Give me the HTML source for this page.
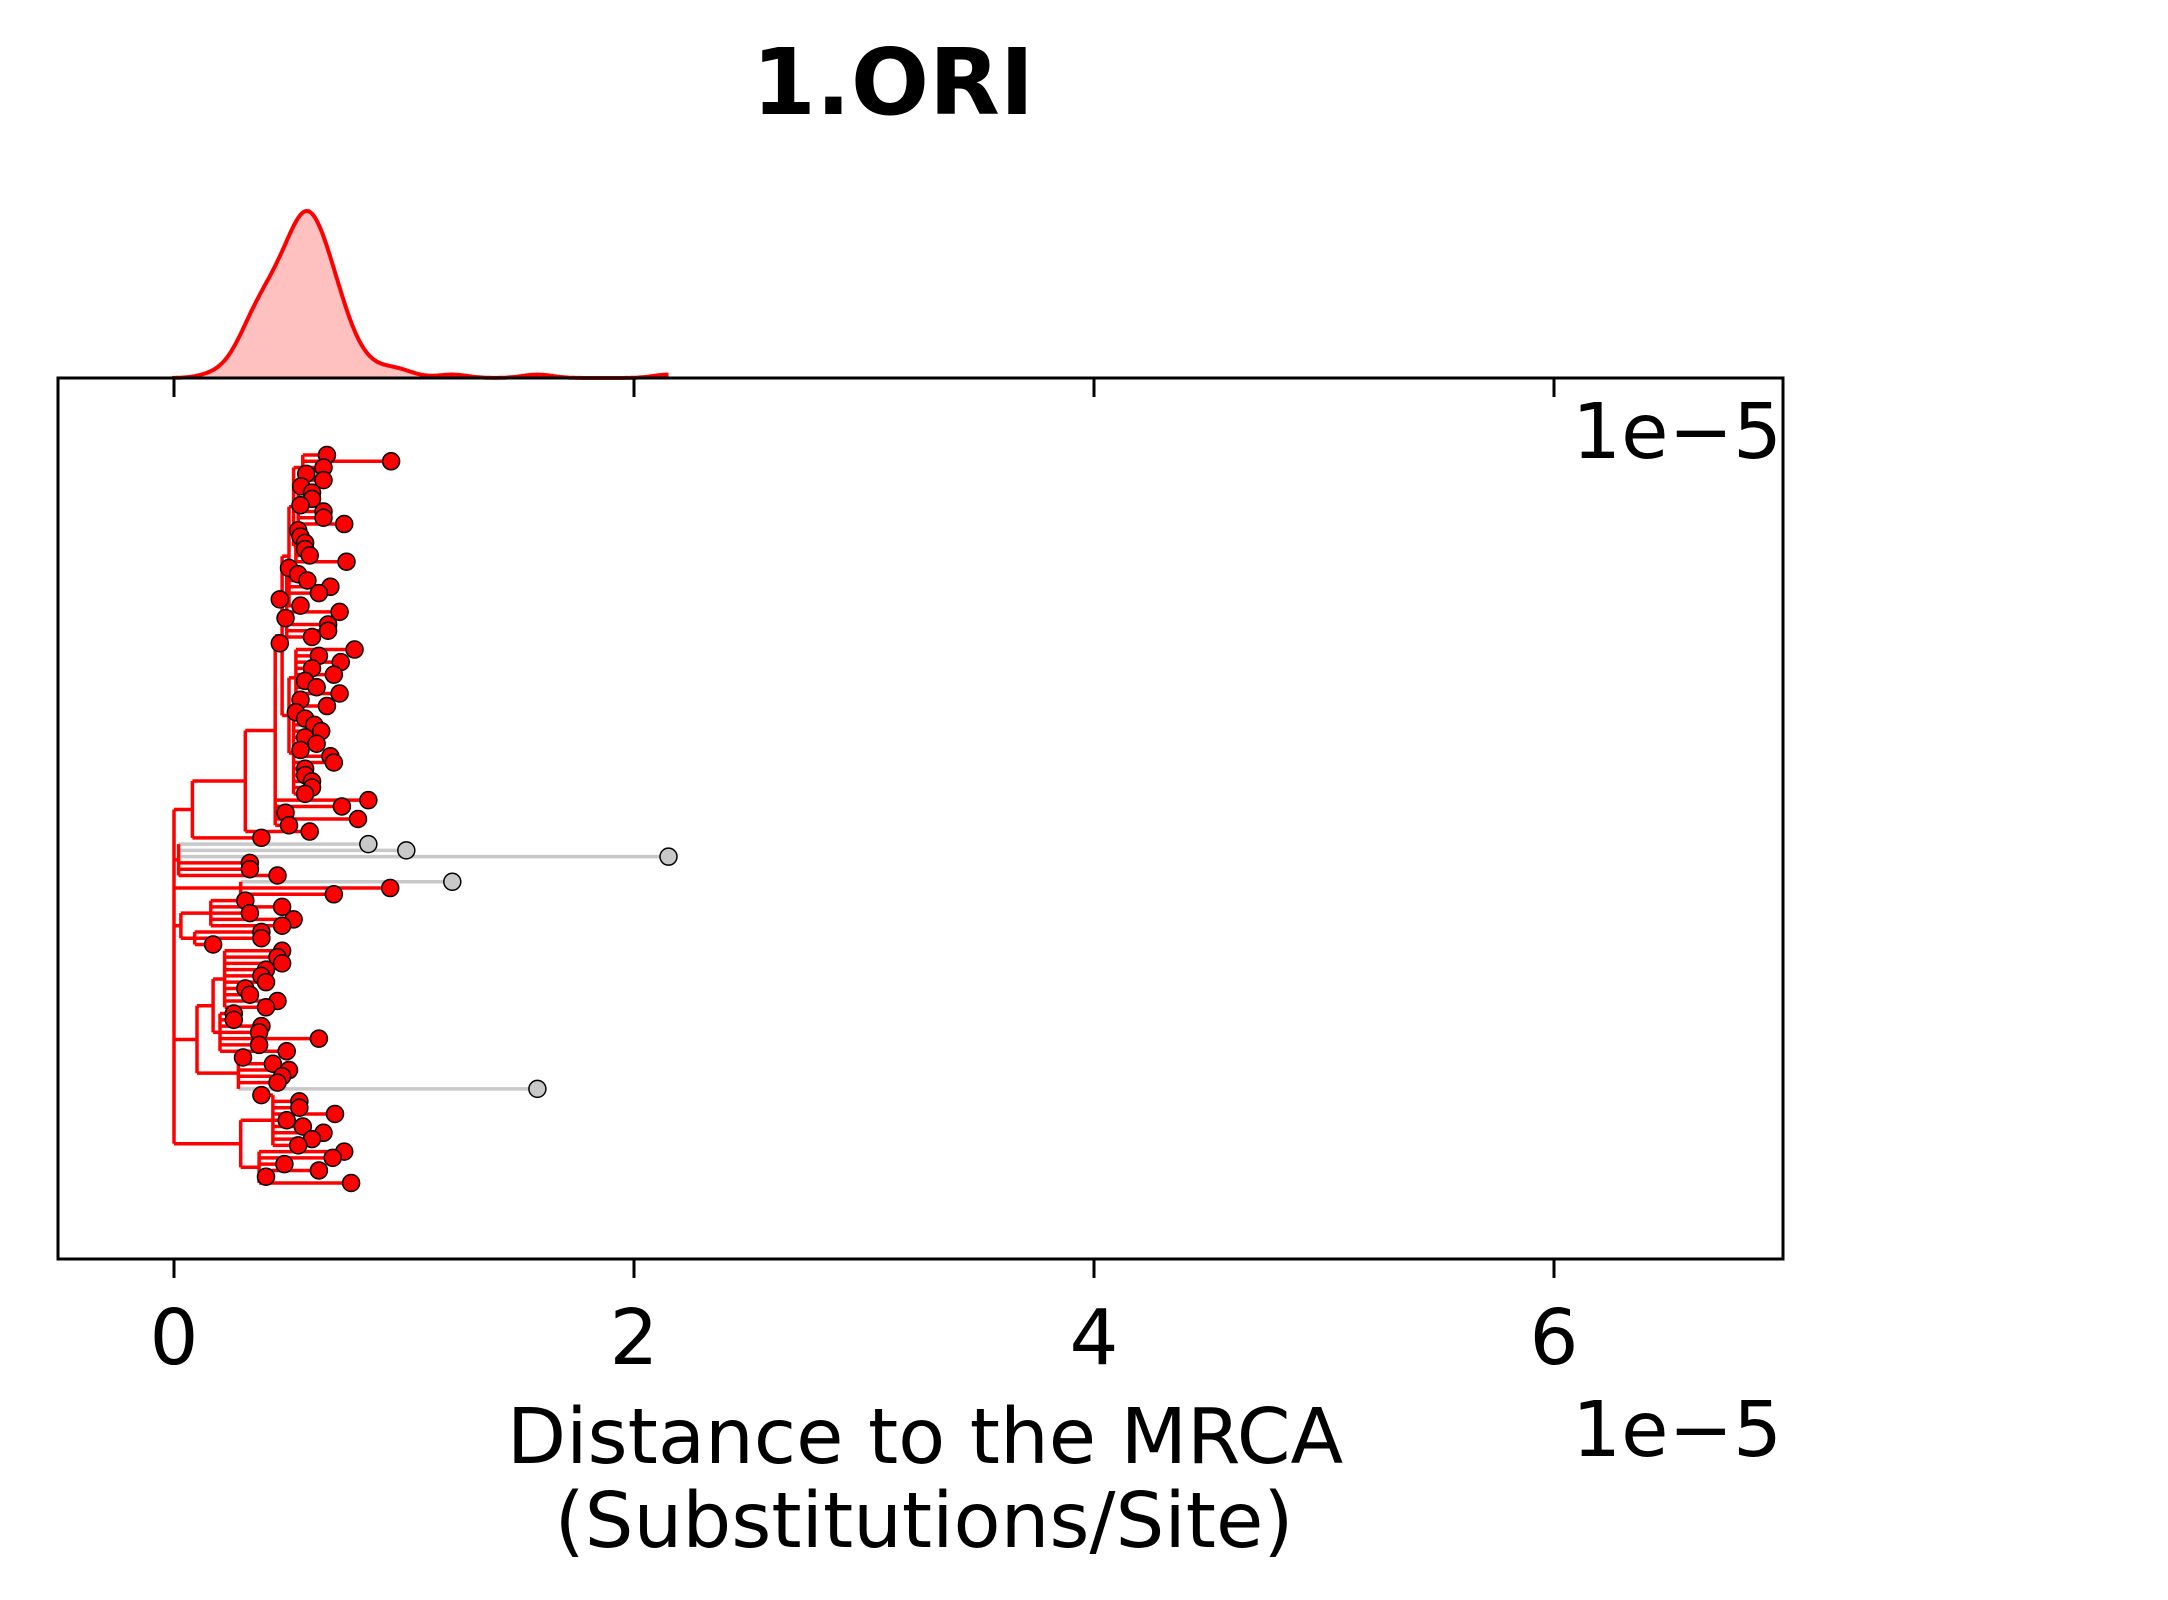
<!DOCTYPE html>
<html><head><meta charset="utf-8"><style>
html,body{margin:0;padding:0;background:#fff;}
svg{display:block;}
text{font-family:"DejaVu Sans","Liberation Sans",sans-serif;fill:#000;}
</style></head><body>
<svg id="chart" width="2168" height="1600" viewBox="0 0 2168 1600" xmlns="http://www.w3.org/2000/svg">
<rect width="2168" height="1600" fill="#fff"/>
<text x="893" y="114" text-anchor="middle" font-size="92" font-weight="bold">1.ORI</text>
<g id="density"></g>
<g id="tree"></g>
<rect x="58" y="378" width="1725" height="881" fill="none" stroke="#000" stroke-width="3"/>
<g id="axis"></g>
<text x="1782" y="458" text-anchor="end" font-size="77">1e−5</text>
<text x="1782" y="1456" text-anchor="end" font-size="77">1e−5</text>
<text x="925" y="1463" text-anchor="middle" font-size="77">Distance to the MRCA</text>
<text x="924" y="1547" text-anchor="middle" font-size="77">(Substitutions/Site)</text>
</svg>
<script>
const tickValues = [0, 2, 4, 6];
const tickLabels = ["0", "2", "4", "6"];
const tipDist = [0.665,0.944,0.65,0.575,0.65,0.553,0.60,0.60,0.55,0.65,0.65,0.74,0.54,0.55,0.57,0.57,0.59,0.75,0.50,0.54,
0.58,0.68,0.63,0.46,0.55,0.72,0.485,0.67,0.67,0.60,0.46,0.785,0.63,0.725,0.60,0.695,0.57,0.62,0.72,0.55,
0.665,0.53,0.57,0.61,0.64,0.57,0.62,0.55,0.68,0.695,0.57,0.57,0.60,0.60,0.57,0.845,0.73,0.485,0.80,0.50,
0.59,0.38,0.845,1.01,2.15,0.33,0.33,0.45,1.21,0.94,0.695,0.31,0.47,0.33,0.52,0.47,0.38,0.38,0.17,0.47,
0.45,0.47,0.40,0.38,0.40,0.31,0.33,0.45,0.40,0.26,0.26,0.38,0.37,0.63,0.37,0.49,0.30,0.43,0.50,0.47,
0.45,1.58,0.38,0.545,0.545,0.70,0.49,0.56,0.65,0.60,0.54,0.74,0.69,0.48,0.63,0.40,0.77];
const grayTips = [62, 63, 64, 68, 101];
const cladeLo = [0,0,0,0,0,0,0,0,5,12,18,31,31,41,62,68,71,71,76,79,79,79,89,96,102,102,111];
const cladeHi = [116,61,60,59,54,30,17,4,11,17,30,54,40,54,67,70,78,75,78,101,95,88,95,101,116,110,116];
const cladeX  = [0,0.08,0.31,0.44,0.47,0.50,0.52,0.56,0.54,0.53,0.49,0.50,0.53,0.52,0.02,0.29,0.03,0.16,0.09,0.10,0.17,0.22,0.20,0.28,0.29,0.43,0.37];

const NS = "http://www.w3.org/2000/svg";
const X0 = 174, UNIT = 230, Y_TOP = 455, Y_BOT = 1183, BASE = 378, PEAK = 211;
function xs(v){ return X0 + v * UNIT; }
function ys(i){ return Y_TOP + i * (Y_BOT - Y_TOP) / (tipDist.length - 1); }
function mk(tag, attrs, parent){ const e = document.createElementNS(NS, tag); for (const k in attrs) e.setAttribute(k, attrs[k]); parent.appendChild(e); return e; }

const axis = document.getElementById('axis');
tickValues.forEach((v, i) => {
  const t1 = mk('line', {x1: xs(v), x2: xs(v), y1: 1259, y2: 1278, stroke: '#000', 'stroke-width': 3}, axis);
  
  
  const t2 = mk('line', {x1: xs(v), x2: xs(v), y1: 378, y2: 397, stroke: '#000', 'stroke-width': 3}, axis);
  
  
  const lb = mk('text', {x: xs(v), y: 1364, 'text-anchor': 'middle', 'font-size': 77}, axis);
  lb.textContent = tickLabels[i];
  
  
});

const tree = document.getElementById('tree');
const lineLayer = mk('g', {}, tree);
const dotLayer = mk('g', {}, tree);
const isGray = i => grayTips.indexOf(i) >= 0;
function childClade(c, i){
  let best = -1;
  for (let d = 0; d < cladeLo.length; d++) {
    if (d === c || cladeLo[d] !== i || cladeHi[d] > cladeHi[c]) continue;
    if (cladeLo[d] === cladeLo[c] && cladeHi[d] === cladeHi[c]) continue;
    if (best < 0 || cladeHi[d] > cladeHi[best]) best = d;
  }
  return best;
}
function drawClade(c){
  const ch = [];
  let i = cladeLo[c];
  while (i <= cladeHi[c]) {
    const d = childClade(c, i);
    if (d >= 0) { const y = drawClade(d); ch.push({x: cladeX[d], y: y, gray: false}); i = cladeHi[d] + 1; }
    else { ch.push({x: tipDist[i], y: ys(i), gray: isGray(i), tip: i}); i++; }
  }
  const px = xs(cladeX[c]);
  ch.forEach(o => {
    const h = mk('line', {x1: px, x2: xs(o.x), y1: o.y, y2: o.y, stroke: o.gray ? '#c8c8c8' : '#ff0000', 'stroke-width': 3.5}, o.gray ? lineLayer : tree);
    
    
    if (o.tip !== undefined) {
      const dot = mk('circle', {cx: xs(o.x), cy: o.y, r: 8.5, fill: o.gray ? '#c8c8c8' : '#ff0000', stroke: '#000', 'stroke-width': 1.5}, dotLayer);
      
      
    }
  });
  const y1 = ch[0].y, y2 = ch[ch.length - 1].y;
  const v = mk('line', {x1: px, x2: px, y1: y1, y2: y2, stroke: '#ff0000', 'stroke-width': 3.5}, tree);
  
  
  return (y1 + y2) / 2;
}
drawClade(0);
tree.appendChild(dotLayer);

const dens = document.getElementById('density');
const bw = 0.065, xmax = Math.max.apply(null, tipDist);
const pts = [];
for (let k = 0; k <= 400; k++) {
  const x = xmax * k / 400;
  let s = 0;
  tipDist.forEach(t => { const z = (x - t) / bw; s += Math.exp(-0.5 * z * z); });
  pts.push([x, s]);
}
const maxS = Math.max.apply(null, pts.map(p => p[1]));
const path = pts.map(p => xs(p[0]).toFixed(1) + ',' + (BASE - (p[1] / maxS) * (BASE - PEAK)).toFixed(1));
const area = mk('polygon', {points: xs(0) + ',' + BASE + ' ' + path.join(' ') + ' ' + xs(xmax) + ',' + BASE, fill: '#ffc0c0', stroke: 'none'}, dens);


const curve = mk('polyline', {points: xs(0) + ',' + BASE + ' ' + path.join(' '), fill: 'none', stroke: '#ff0000', 'stroke-width': 4}, dens);


</script>
</body></html>
